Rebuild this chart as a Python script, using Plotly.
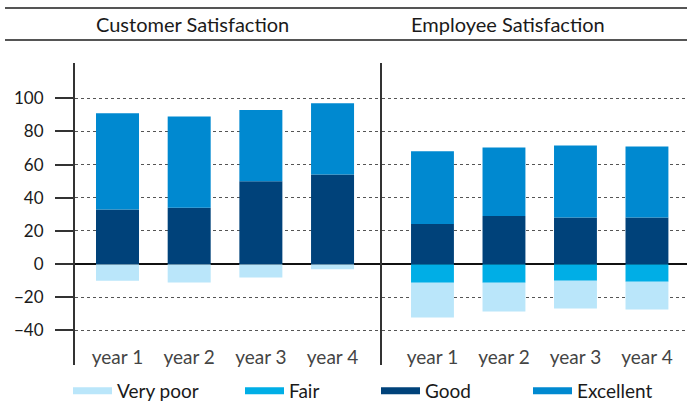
import plotly.graph_objects as go

years = ["year 1", "year 2", "year 3", "year 4"]
panels = ["Customer Satisfaction", "Employee Satisfaction"]

cust_very_poor = [-10, -11, -8, -3]
cust_fair = [0, 0, 0, 0]
cust_good = [33, 34, 50, 54]
cust_excellent = [58, 55, 43, 43]

emp_very_poor = [-21, -17.4, -16.8, -16.8]
emp_fair = [-11.2, -11.2, -10, -10.6]
emp_good = [24.2, 29, 28.2, 28.2]
emp_excellent = [43.8, 41.4, 43.4, 42.8]

y_ticks = [-40, -20, 0, 20, 40, 60, 80, 100]

colors = {
    "Very poor": "#bae6fa",
    "Fair": "#00aee6",
    "Good": "#00427a",
    "Excellent": "#0089d0",
}

FONT = "Lato"
fig = go.Figure()

series = [
    ("Fair", cust_fair, emp_fair),
    ("Very poor", cust_very_poor, emp_very_poor),
    ("Good", cust_good, emp_good),
    ("Excellent", cust_excellent, emp_excellent),
]
for name, c_vals, e_vals in series:
    fig.add_trace(go.Bar(x=years, y=c_vals, name=name, marker_color=colors[name],
                         marker_line_width=0, width=0.6, showlegend=False,
                         xaxis="x", yaxis="y"))
    fig.add_trace(go.Bar(x=years, y=e_vals, name=name, marker_color=colors[name],
                         marker_line_width=0, width=0.6, showlegend=False,
                         xaxis="x2", yaxis="y2"))

# legend entries drawn as thick line swatches, one legend box each so they can be spaced
legend_names = ["Very poor", "Fair", "Good", "Excellent"]
legend_x_px = [68, 240, 376, 528]
legend_ids = ["legend", "legend2", "legend3", "legend4"]
for name, lid in zip(legend_names, legend_ids):
    fig.add_trace(go.Scatter(x=[None], y=[None], mode="lines", name=name, legend=lid,
                             line=dict(color=colors[name], width=7)))

yaxis_common = dict(range=[-60.8, 121.3], domain=[0.0898, 0.843], tickvals=y_ticks,
                    showgrid=True, gridcolor="#555", griddash="dot", gridwidth=1,
                    zeroline=True, zerolinecolor="#111", zerolinewidth=2,
                    showline=True, linecolor="#333", linewidth=2, layer="below traces")

xaxis_common = dict(type="category", showgrid=False, zeroline=False, ticks="",
                    ticklabelposition="inside", ticklabelstandoff=-6,
                    tickfont=dict(size=19))

fig.update_layout(
    width=687, height=401,
    margin=dict(l=0, r=0, t=0, b=0, autoexpand=False),
    paper_bgcolor="white", plot_bgcolor="white",
    barmode="relative",
    font=dict(family=FONT, size=17, color="#1a1a1a"),
    xaxis=dict(**xaxis_common, domain=[75 / 687, 382 / 687], range=[-0.593, 3.69], anchor="y"),
    xaxis2=dict(**xaxis_common, domain=[382 / 687, 1], range=[-0.706, 3.56], anchor="y2"),
    yaxis=dict(**yaxis_common, anchor="x", ticks="outside", ticklen=18, tickwidth=2,
               tickcolor="#333", ticklabelstandoff=8),
    yaxis2=dict(**yaxis_common, anchor="x2", showticklabels=False, ticks=""),
)
for lid, x_px in zip(legend_ids, legend_x_px):
    fig.update_layout({lid: dict(orientation="h", x=x_px / 687, xanchor="left",
                                 y=1 - 391 / 401, yanchor="middle", itemwidth=39,
                                 font=dict(size=19), bgcolor="rgba(0,0,0,0)")})

# header rules and panel titles
for y_px in [8, 40]:
    fig.add_shape(type="line", xref="paper", yref="paper", x0=5 / 687, x1=1,
                  y0=1 - y_px / 401, y1=1 - y_px / 401, line=dict(color="#555", width=2))
for title, x_px in zip(panels, [192.5, 508]):
    fig.add_annotation(text=title, xref="paper", yref="paper", x=x_px / 687,
                       y=1 - 24 / 401, showarrow=False, font=dict(size=20),
                       xanchor="center", yanchor="middle")

# drop the page's default body margin so the figure sits at the window corner
fig.write_html("out.html", config={"displayModeBar": False},
               post_script="document.body.style.margin='0px';")
